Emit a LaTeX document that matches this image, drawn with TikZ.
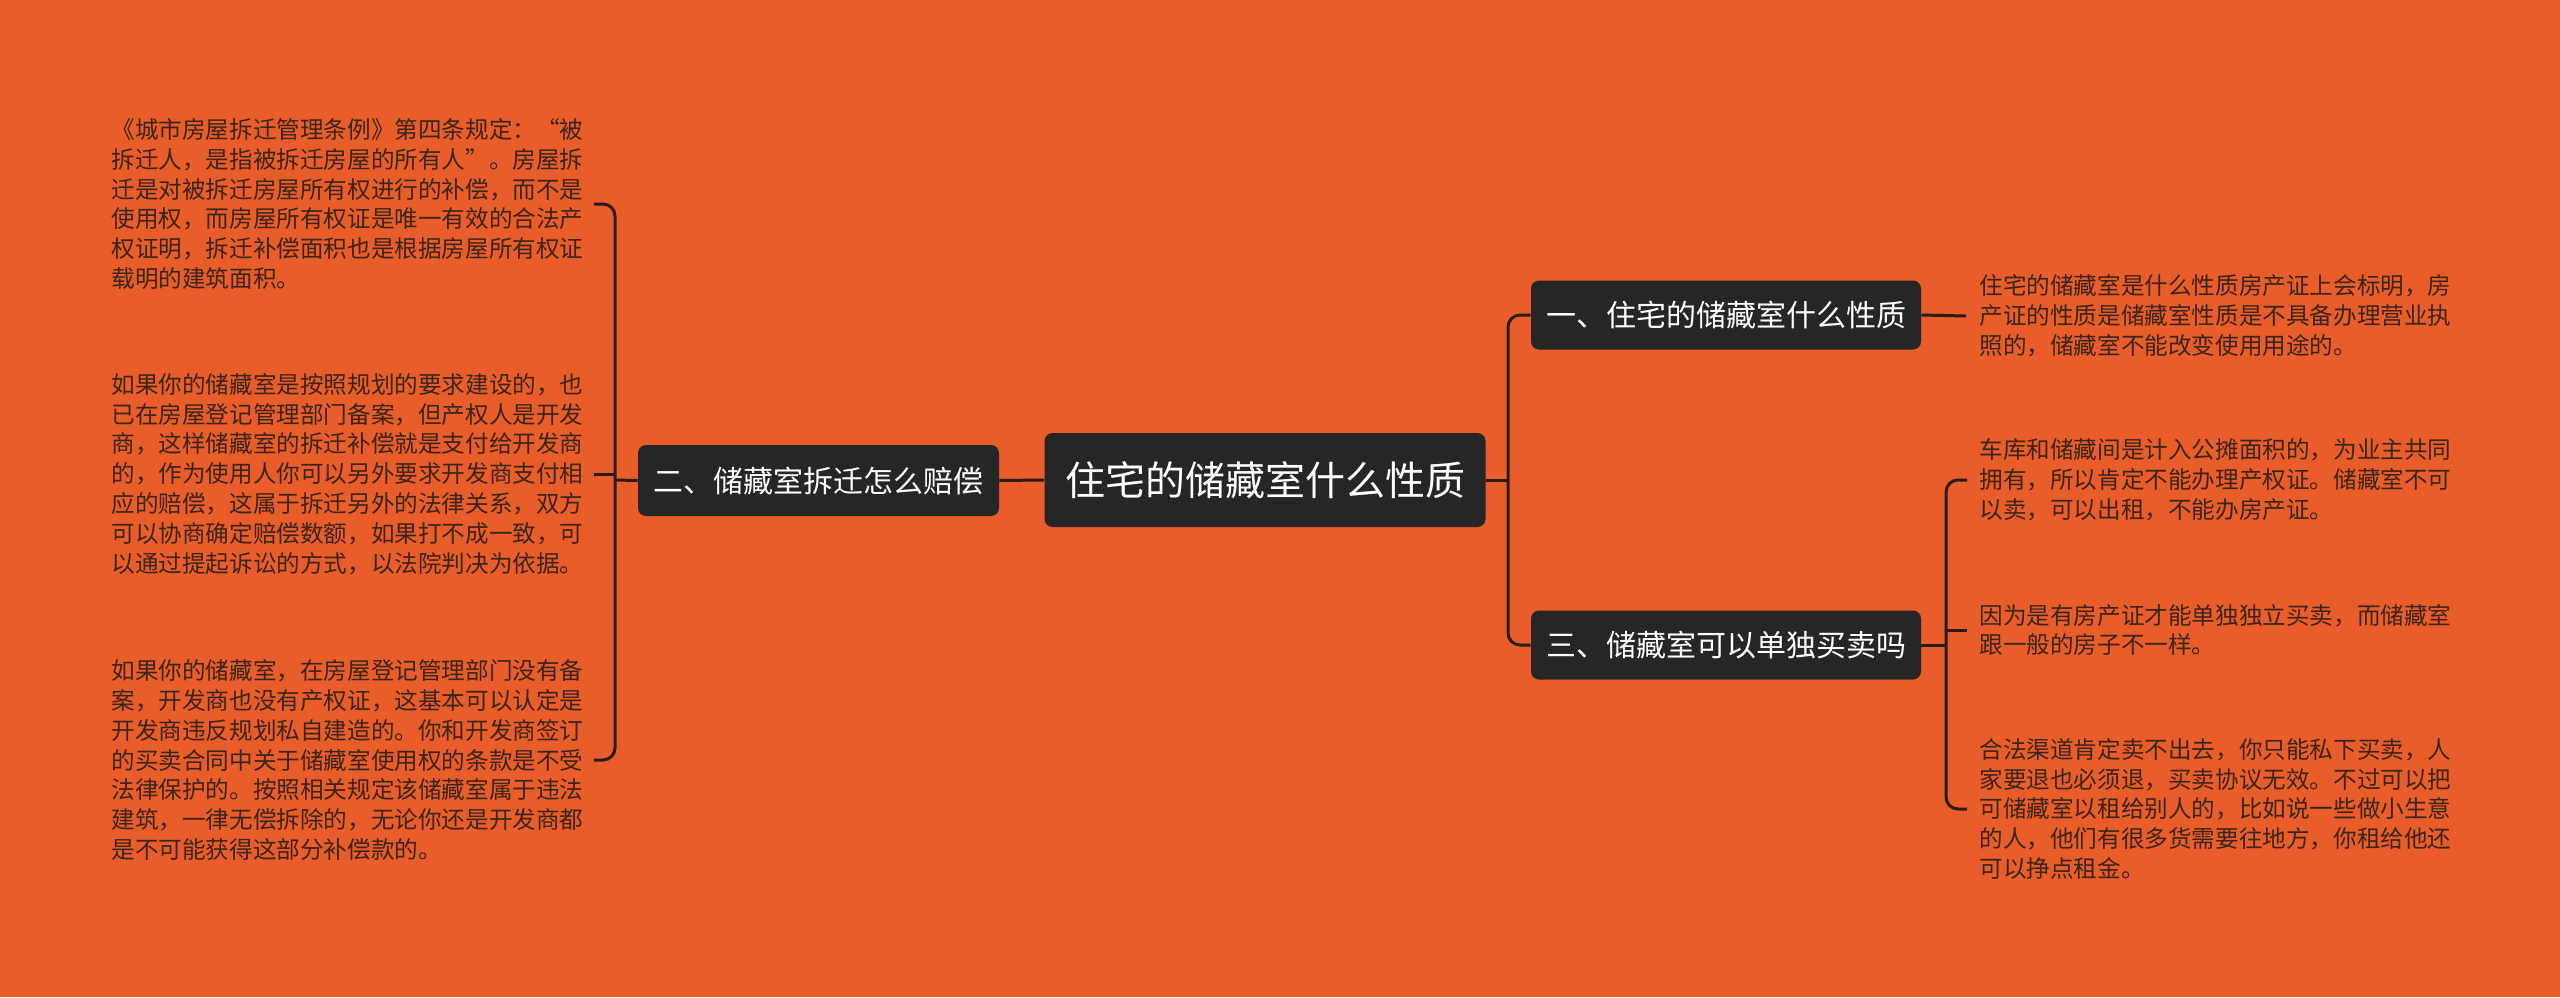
\documentclass[tikz,border=0pt]{standalone}
\usepackage{fontspec}
\newfontfamily\cjk{Noto Sans CJK SC}
\usetikzlibrary{positioning}
\definecolor{bgorange}{HTML}{E95D2A}
\definecolor{boxdark}{HTML}{262626}
\definecolor{linkdark}{HTML}{2A1C15}
\definecolor{txtdark}{HTML}{3A2518}

\begin{document}
\begin{tikzpicture}[x=0.5pt, y=-0.5pt,
    topic/.style={fill=boxdark, text=white, rounded corners=4pt, inner sep=0pt,
        font=\cjk\fontsize{15}{18}\selectfont},
    leaf/.style={anchor=west, align=left, inner sep=0pt, text width=240pt,
        text=txtdark, font=\cjk\fontsize{11.8}{14.9}\selectfont},
    link/.style={draw=linkdark, line width=1.5pt, rounded corners=6pt}]
    % 1. 背景
    \fill[bgorange] (0,0) rectangle (2560,997);
    \useasboundingbox (0,0) rectangle (2560,997);

    % 2. 中心主题与分支
    \node[topic, minimum width=220.5pt, minimum height=47pt,
        font=\cjk\fontsize{20}{24}\selectfont] (root) at (1265,480) {住宅的储藏室什么性质};
    \node[topic, minimum width=195pt, minimum height=34.5pt] (sec1) at (1726,315) {一、住宅的储藏室什么性质};
    \node[topic, minimum width=180.5pt, minimum height=35.5pt] (sec2) at (818.5,480.5) {二、储藏室拆迁怎么赔偿};
    \node[topic, minimum width=195pt, minimum height=34.5pt] (sec3) at (1726,645) {三、储藏室可以单独买卖吗};

    % 3. 左侧说明文字
    \node[leaf] (txt21) at (111,204) {《城市房屋拆迁管理条例》第四条规定：“被\\拆迁人，是指被拆迁房屋的所有人”。房屋拆\\迁是对被拆迁房屋所有权进行的补偿，而不是\\使用权，而房屋所有权证是唯一有效的合法产\\权证明，拆迁补偿面积也是根据房屋所有权证\\载明的建筑面积。};
    \node[leaf] (txt22) at (111,474) {如果你的储藏室是按照规划的要求建设的，也\\已在房屋登记管理部门备案，但产权人是开发\\商，这样储藏室的拆迁补偿就是支付给开发商\\的，作为使用人你可以另外要求开发商支付相\\应的赔偿，这属于拆迁另外的法律关系，双方\\可以协商确定赔偿数额，如果打不成一致，可\\以通过提起诉讼的方式，以法院判决为依据。};
    \node[leaf] (txt23) at (111,760) {如果你的储藏室，在房屋登记管理部门没有备\\案，开发商也没有产权证，这基本可以认定是\\开发商违反规划私自建造的。你和开发商签订\\的买卖合同中关于储藏室使用权的条款是不受\\法律保护的。按照相关规定该储藏室属于违法\\建筑，一律无偿拆除的，无论你还是开发商都\\是不可能获得这部分补偿款的。};

    % 4. 右侧说明文字
    \node[leaf] (txt11) at (1979,316) {住宅的储藏室是什么性质房产证上会标明，房\\产证的性质是储藏室性质是不具备办理营业执\\照的，储藏室不能改变使用用途的。};
    \node[leaf] (txt31) at (1979,480) {车库和储藏间是计入公摊面积的，为业主共同\\拥有，所以肯定不能办理产权证。储藏室不可\\以卖，可以出租，不能办房产证。};
    \node[leaf] (txt32) at (1979,630) {因为是有房产证才能单独独立买卖，而储藏室\\跟一般的房子不一样。};
    \node[leaf] (txt33) at (1979,809) {合法渠道肯定卖不出去，你只能私下买卖，人\\家要退也必须退，买卖协议无效。不过可以把\\可储藏室以租给别人的，比如说一些做小生意\\的人，他们有很多货需要往地方，你租给他还\\可以挣点租金。};

    % 5. 连线
    \coordinate (busL) at (615,480);
    \coordinate (busR) at (1508,480);
    \coordinate (busR3) at (1946,645);
    \draw[link] (root.west) -- (sec2.east);
    \draw[link] (sec2.west) -- (busL);
    \draw[link] ([xshift=1pt]txt21.east) -| (busL) |- ([xshift=1pt]txt23.east);
    \draw[link] ([xshift=1pt]txt22.east) -- (busL |- txt22.east);
    \draw[link] (root.east) -- (busR);
    \draw[link] (sec1.west) -| (busR) |- (sec3.west);
    \draw[link] (sec1.east) -- ([xshift=-6.5pt]txt11.west);
    \draw[link] (sec3.east) -- (busR3);
    \draw[link] ([xshift=-6pt]txt31.west) -| (busR3) |- ([xshift=-6pt]txt33.west);
    \draw[link] ([xshift=-6pt]txt32.west) -- (busR3 |- txt32.west);
\end{tikzpicture}
\end{document}
